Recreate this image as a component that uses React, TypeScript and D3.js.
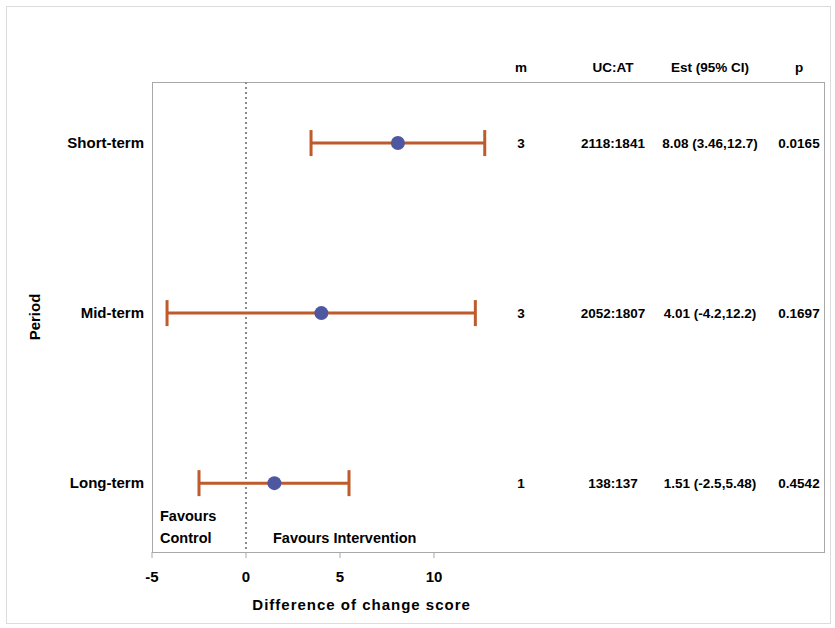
import React from 'react'
import * as d3 from 'd3'

// forest plot: difference of change score by period
const periods = ['Short-term', 'Mid-term', 'Long-term']
const estimates = [8.08, 4.01, 1.51]
const lowerCI = [3.46, -4.2, -2.5]
const upperCI = [12.7, 12.2, 5.48]
const mValues = ['3', '3', '1']
const ucAt = ['2118:1841', '2052:1807', '138:137']
const estLabels = ['8.08 (3.46,12.7)', '4.01 (-4.2,12.2)', '1.51 (-2.5,5.48)']
const pValues = ['0.0165', '0.1697', '0.4542']
const xTicks = [-5, 0, 5, 10]
const columnHeads = ['m', 'UC:AT', 'Est (95% CI)', 'p']

export default function App() {
  const W = 835
  const H = 628
  const margin = { top: 82, right: 10, bottom: 76, left: 152 }
  const width = W - margin.left - margin.right
  const height = H - margin.top - margin.bottom

  // -5..10 takes ~282px, rest of the box is used by the table columns
  const x = d3.scaleLinear().domain([-5, 30.8]).range([0, width])
  const y = d3.scalePoint().domain(periods).range([0, height]).padding(0.382).align(0.47)

  const errColor = '#BE5A2C'
  const dotColor = '#4E58A0'
  const font = 'Liberation Sans, Arial, sans-serif'
  const capHalf = 13

  // table column centres (in plot coordinates)
  const colX = [369, 461, 558, 647]
  const colVals = [mValues, ucAt, estLabels, pValues]

  return (
    <svg
      width={W}
      height={H}
      style={{ position: 'absolute', left: 0, top: 0, background: '#fff' }}
      fontFamily={font}
      fontWeight="bold"
    >
      <rect x={6.5} y={6.5} width={824} height={617} fill="none" stroke="#dcdcdc" />
      <g transform={`translate(${margin.left},${margin.top})`}>
        <rect x={0.5} y={0.5} width={width - 1} height={height} fill="none" stroke="#a8a8a8" />

        {/* reference line at 0 */}
        <line
          x1={x(0)}
          x2={x(0)}
          y1={0}
          y2={height}
          stroke="#8a8a8a"
          strokeWidth={2}
          strokeDasharray="2,3"
        />

        {/* column headers */}
        {columnHeads.map((h, i) => (
          <text key={h} x={colX[i]} y={-10} textAnchor="middle" fontSize={13.5}>
            {h}
          </text>
        ))}

        {periods.map((p, i) => {
          const cy = y(p) as number
          return (
            <g key={p}>
              <line x1={x(lowerCI[i])} x2={x(upperCI[i])} y1={cy} y2={cy} stroke={errColor} strokeWidth={3} />
              <line x1={x(lowerCI[i])} x2={x(lowerCI[i])} y1={cy - capHalf} y2={cy + capHalf} stroke={errColor} strokeWidth={3} />
              <line x1={x(upperCI[i])} x2={x(upperCI[i])} y1={cy - capHalf} y2={cy + capHalf} stroke={errColor} strokeWidth={3} />
              <circle cx={x(estimates[i])} cy={cy} r={7} fill={dotColor} />
              <text x={-8} y={cy + 5} textAnchor="end" fontSize={15}>
                {p}
              </text>
              {colVals.map((vals, j) => (
                <text key={j} x={colX[j]} y={cy + 5} textAnchor="middle" fontSize={13.5}>
                  {vals[i]}
                </text>
              ))}
            </g>
          )
        })}

        {/* favours labels */}
        <text x={8} y={height - 31} fontSize={14.5}>Favours</text>
        <text x={8} y={height - 9} fontSize={14.5}>Control</text>
        <text x={121} y={height - 9} fontSize={14.5}>Favours Intervention</text>

        {/* x axis */}
        <g transform={`translate(0,${height})`}>
          {xTicks.map((t) => (
            <g key={t} transform={`translate(${x(t)},0)`}>
              <line y1={0} y2={6} stroke="#a8a8a8" />
              <text y={30} textAnchor="middle" fontSize={15}>
                {t}
              </text>
            </g>
          ))}
        </g>
        <text
          x={x(6.15)}
          y={height + 58}
          textAnchor="middle"
          fontSize={15}
          letterSpacing={1}
        >
          Difference of change score
        </text>
      </g>
      <text transform={`translate(40,${margin.top + height / 2}) rotate(-90)`} textAnchor="middle" fontSize={15}>
        Period
      </text>
    </svg>
  )
}
